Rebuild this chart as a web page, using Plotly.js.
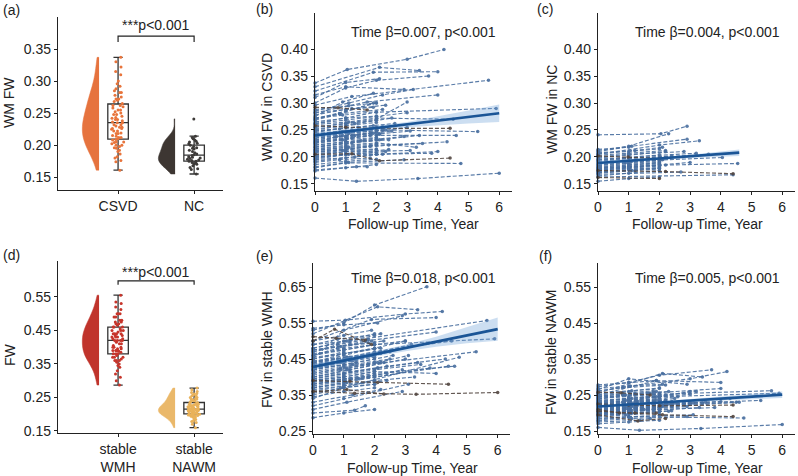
<!DOCTYPE html>
<html>
<head>
<meta charset="utf-8">
<script src="https://cdn.plot.ly/plotly-3.0.1.min.js"></script>
<style>
  html, body { margin: 0; padding: 0; background: #fff; }
  #chart { width: 798px; height: 476px; }
</style>
</head>
<body>
<div id="chart"></div>
<script>
// ---- follow-up times per CSVD subject (shared by b, e, f) ----
const csvdTimes = [
  [0, 1.05, 3.0, 4.2], [0, 2.1, 3.4], [0, 1.9, 4.0], [0, 1.0, 2.0, 3.7], [0, 1.2, 5.65],
  [0, 1.7, 4.0], [0, 1.0, 2.9], [0, 0.75, 1.7], [0, 1.0, 2.0, 5.9], [0, 1.35, 3.35, 6.0],
  [0, 1.35, 1.7], [0, 1.2, 2.1, 4.4], [0, 1.0, 2.0], [0, 0.9, 1.9], [0, 1.1, 2.2, 3.2],
  [0, 1.0, 2.1], [0, 1.0, 4.75], [0, 1.1, 2.3, 5.3], [0, 2.0, 4.6], [0, 1.0, 2.0, 3.8],
  [0, 0.8, 1.9], [0, 1.0, 2.0, 3.0], [0, 1.3, 2.5], [0, 1.0], [0, 0.9, 2.0],
  [0, 1.1, 2.2], [0, 1.0, 2.0, 4.4], [0, 1.2, 3.0], [0, 1.0, 2.1], [0, 0.7, 1.9],
  [0, 1.0, 2.0], [0, 1.5, 2.9], [0, 1.0, 2.0, 3.3], [0, 1.1], [0, 1.0, 2.0],
  [0, 1.2, 2.4, 4.3], [0, 0.9, 2.0], [0, 1.0, 3.1], [0, 1.0, 2.0], [0, 1.3, 2.2],
  [0, 1.0, 2.0, 4.0], [0, 0.8, 1.8], [0, 1.0, 2.0], [0, 1.1, 2.9], [0, 1.0, 2.0],
  [0, 1.2], [0, 1.0, 2.1, 3.1], [0, 0.9, 2.0], [0, 1.0, 2.2], [0, 1.4, 2.6],
  [0, 1.0, 2.0], [0, 1.1, 2.0, 4.5], [0, 1.0, 2.0], [0, 0.8, 2.2], [0, 1.0, 1.9],
  [0, 1.2, 2.4], [0, 1.0, 2.0, 3.5], [0, 1.0, 2.0], [0, 1.1, 2.3], [0, 1.0, 2.0],
  [0, 1.0, 2.0], [0, 1.1, 2.2], [0, 0.9, 1.8], [0, 1.0, 2.0, 3.0], [0, 1.2, 2.3],
  [0, 1.0, 2.0], [0, 0.8, 1.9], [0, 1.0, 2.1, 3.4], [0, 1.1, 2.0], [0, 1.0, 2.4],
  [0, 1.0, 2.0], [0, 1.3, 2.5], [0, 0.9, 2.0], [0, 1.0, 1.8], [0, 1.2, 2.2]
];

// (b) WM FW in CSVD
const wmFwCsvd = [
  [0.337, 0.362, 0.381, 0.399], [0.330, 0.366, 0.360], [0.322, 0.357, 0.358], [0.300, 0.328, 0.342, 0.350], [0.296, 0.312, 0.342],
  [0.282, 0.302, 0.315], [0.315, 0.330, 0.325], [0.292, 0.291, 0.287], [0.262, 0.272, 0.283, 0.290], [0.161, 0.155, 0.160, 0.170],
  [0.176, 0.182, 0.182], [0.205, 0.206, 0.193, 0.198], [0.270, 0.285, 0.300], [0.275, 0.302, 0.318], [0.285, 0.300, 0.315, 0.325],
  [0.310, 0.338, 0.345], [0.180, 0.189, 0.188], [0.240, 0.245, 0.250, 0.247], [0.228, 0.240, 0.240], [0.200, 0.204, 0.205, 0.207],
  [0.268, 0.280, 0.300], [0.255, 0.262, 0.270, 0.302], [0.250, 0.262, 0.272], [0.245, 0.255], [0.240, 0.247, 0.255],
  [0.235, 0.245, 0.250], [0.258, 0.255, 0.253, 0.253], [0.232, 0.240, 0.255], [0.230, 0.236, 0.242], [0.226, 0.238, 0.244],
  [0.222, 0.228, 0.235], [0.218, 0.230, 0.238], [0.215, 0.222, 0.226, 0.218], [0.212, 0.218], [0.210, 0.215, 0.222],
  [0.208, 0.215, 0.222, 0.228], [0.205, 0.212, 0.215], [0.202, 0.210, 0.212], [0.198, 0.205, 0.208], [0.195, 0.200, 0.205],
  [0.192, 0.198, 0.205, 0.210], [0.190, 0.195, 0.198], [0.186, 0.192, 0.196], [0.182, 0.190, 0.195], [0.225, 0.232, 0.236],
  [0.228, 0.235], [0.232, 0.238, 0.243, 0.248], [0.236, 0.240, 0.246], [0.242, 0.248, 0.252], [0.248, 0.255, 0.262],
  [0.252, 0.258, 0.264], [0.260, 0.265, 0.272, 0.270], [0.265, 0.272, 0.276], [0.272, 0.280, 0.288], [0.278, 0.288, 0.292],
  [0.218, 0.226, 0.232], [0.212, 0.218, 0.222, 0.225], [0.222, 0.228, 0.232], [0.196, 0.205, 0.210], [0.174, 0.180, 0.186],
  [0.204, 0.210, 0.214], [0.238, 0.244, 0.250], [0.226, 0.232, 0.240], [0.262, 0.268, 0.275, 0.282], [0.282, 0.290, 0.296],
  [0.214, 0.220, 0.224], [0.248, 0.252, 0.258], [0.219, 0.225, 0.232, 0.240], [0.288, 0.295, 0.300], [0.200, 0.206, 0.214],
  [0.255, 0.262, 0.268], [0.235, 0.240, 0.248], [0.272, 0.278, 0.284], [0.209, 0.214, 0.220], [0.243, 0.250, 0.256]
];

// (e) FW in stable WMH
const fwWmh = [
  [0.555, 0.558, 0.575, 0.582], [0.520, 0.595, 0.587], [0.500, 0.560, 0.565], [0.530, 0.550, 0.600, 0.651], [0.480, 0.500, 0.557],
  [0.470, 0.500, 0.525], [0.450, 0.530, 0.570], [0.512, 0.508, 0.503], [0.460, 0.480, 0.490, 0.506], [0.360, 0.355, 0.352, 0.357],
  [0.300, 0.308, 0.320], [0.390, 0.388, 0.385, 0.380], [0.440, 0.465, 0.480], [0.420, 0.445, 0.460], [0.430, 0.450, 0.470, 0.490],
  [0.535, 0.545, 0.550], [0.340, 0.370, 0.455], [0.400, 0.420, 0.440, 0.470], [0.380, 0.410, 0.430], [0.370, 0.385, 0.400, 0.425],
  [0.460, 0.480, 0.500], [0.440, 0.460, 0.480, 0.500], [0.430, 0.445, 0.470], [0.450, 0.470], [0.420, 0.440, 0.460],
  [0.410, 0.425, 0.440], [0.380, 0.390, 0.400, 0.430], [0.400, 0.420, 0.450], [0.395, 0.410, 0.425], [0.500, 0.533, 0.490],
  [0.390, 0.400, 0.415], [0.375, 0.395, 0.420], [0.360, 0.375, 0.390, 0.400], [0.370, 0.385], [0.355, 0.370, 0.380],
  [0.400, 0.415, 0.430, 0.450], [0.350, 0.370, 0.380], [0.320, 0.340, 0.380], [0.345, 0.360, 0.370], [0.330, 0.350, 0.365],
  [0.390, 0.400, 0.415, 0.410], [0.470, 0.490, 0.505], [0.480, 0.500, 0.520], [0.310, 0.330, 0.360], [0.425, 0.440, 0.455],
  [0.435, 0.450], [0.415, 0.430, 0.440, 0.460], [0.410, 0.425, 0.440], [0.450, 0.465, 0.480], [0.420, 0.440, 0.460],
  [0.430, 0.445, 0.460], [0.440, 0.455, 0.470, 0.500], [0.460, 0.475, 0.490], [0.490, 0.505, 0.520], [0.500, 0.515, 0.530],
  [0.388, 0.395, 0.410], [0.390, 0.405, 0.420, 0.435], [0.420, 0.435, 0.450], [0.360, 0.365, 0.353], [0.287, 0.300, 0.310],
  [0.385, 0.395, 0.405], [0.445, 0.455, 0.470], [0.405, 0.420, 0.435], [0.465, 0.475, 0.490, 0.500], [0.475, 0.490, 0.500],
  [0.370, 0.380, 0.390], [0.435, 0.450, 0.460], [0.395, 0.410, 0.425, 0.440], [0.490, 0.500, 0.515], [0.365, 0.375, 0.390],
  [0.455, 0.465, 0.480], [0.425, 0.435, 0.450], [0.475, 0.485, 0.495], [0.380, 0.390, 0.400], [0.440, 0.455, 0.465]
];

// (f) FW in stable NAWM
const fwNawm = [
  [0.260, 0.275, 0.295, 0.315], [0.255, 0.310, 0.300], [0.250, 0.290, 0.285], [0.273, 0.285, 0.305, 0.320], [0.245, 0.250, 0.262],
  [0.240, 0.255, 0.268], [0.265, 0.295, 0.280], [0.258, 0.256, 0.250], [0.235, 0.240, 0.245, 0.255], [0.160, 0.152, 0.157, 0.168],
  [0.175, 0.180, 0.185], [0.205, 0.200, 0.195, 0.190], [0.230, 0.240, 0.250], [0.225, 0.235, 0.245], [0.232, 0.240, 0.250, 0.260],
  [0.268, 0.275, 0.280], [0.180, 0.190, 0.186], [0.215, 0.220, 0.225, 0.235], [0.210, 0.220, 0.230], [0.200, 0.205, 0.210, 0.215],
  [0.238, 0.250, 0.260], [0.228, 0.235, 0.245, 0.260], [0.225, 0.232, 0.240], [0.220, 0.228], [0.215, 0.222, 0.230],
  [0.212, 0.218, 0.225], [0.225, 0.222, 0.220, 0.222], [0.208, 0.215, 0.225], [0.205, 0.212, 0.218], [0.210, 0.200, 0.200],
  [0.203, 0.210, 0.215], [0.200, 0.210, 0.218], [0.198, 0.203, 0.210, 0.215], [0.196, 0.200], [0.194, 0.198, 0.205],
  [0.220, 0.225, 0.232, 0.240], [0.190, 0.195, 0.200], [0.186, 0.190, 0.195], [0.184, 0.188, 0.193], [0.195, 0.178, 0.185],
  [0.215, 0.220, 0.228, 0.232], [0.245, 0.255, 0.262], [0.250, 0.260, 0.270], [0.178, 0.185, 0.190], [0.218, 0.225, 0.230],
  [0.213, 0.220], [0.210, 0.215, 0.222, 0.228], [0.206, 0.212, 0.218], [0.222, 0.228, 0.235], [0.230, 0.236, 0.245],
  [0.200, 0.206, 0.212], [0.202, 0.208, 0.215, 0.230], [0.240, 0.245, 0.252], [0.262, 0.270, 0.278], [0.278, 0.285, 0.290],
  [0.208, 0.212, 0.218], [0.214, 0.220, 0.225, 0.230], [0.217, 0.223, 0.228], [0.192, 0.200, 0.205], [0.170, 0.175, 0.180],
  [0.198, 0.204, 0.210], [0.222, 0.228, 0.235], [0.212, 0.218, 0.224], [0.235, 0.240, 0.246, 0.252], [0.248, 0.255, 0.260],
  [0.204, 0.210, 0.214], [0.226, 0.230, 0.236], [0.209, 0.215, 0.222, 0.228], [0.255, 0.262, 0.268], [0.196, 0.200, 0.206],
  [0.228, 0.234, 0.240], [0.218, 0.222, 0.228], [0.243, 0.250, 0.255], [0.201, 0.206, 0.210], [0.224, 0.230, 0.236]
];

// (c) NC subjects: times and WM FW
const ncTimes = [
  [0, 2.05, 2.9], [0, 1.0, 2.3], [0, 2.0, 3.3], [0, 1.1, 2.9], [0, 1.0, 2.8],
  [0, 2.0, 4.05], [0, 2.2, 4.55], [0, 2.2, 4.4], [0, 4.4], [0, 0.98, 2.0],
  [0, 2.0], [0, 2.7], [0, 1.0, 2.0], [0, 1.0, 2.1], [0, 1.0, 2.0],
  [0, 1.0, 2.0], [0, 1.0, 2.2], [0, 1.0, 2.0], [0, 1.2, 2.0], [0, 1.0, 2.0],
  [0, 1.0, 3.0], [0, 1.1, 2.1], [0, 1.0, 2.0], [0, 1.0], [0, 1.0, 2.0],
  [0, 2.0, 3.6], [0, 1.0, 2.0], [0, 1.0, 2.0], [0, 1.0, 2.4], [0, 1.0, 2.0],
  [0, 1.0, 2.0], [0, 1.1, 2.0], [0, 1.0, 2.2], [0, 0.9, 2.0], [0, 1.0, 2.0],
  [0, 1.2, 2.1], [0, 1.0, 2.0], [0, 1.0, 3.2]
];
const wmFwNc = [
  [0.241, 0.243, 0.257], [0.212, 0.220, 0.243], [0.205, 0.222, 0.230], [0.210, 0.220, 0.233], [0.200, 0.205, 0.210],
  [0.190, 0.195, 0.199], [0.180, 0.185, 0.188], [0.175, 0.173, 0.169], [0.163, 0.167], [0.202, 0.200, 0.197],
  [0.162, 0.160], [0.168, 0.172], [0.172, 0.176, 0.180], [0.185, 0.190, 0.195], [0.178, 0.182, 0.186],
  [0.194, 0.198, 0.204], [0.198, 0.203, 0.210], [0.206, 0.210, 0.215], [0.170, 0.174, 0.178], [0.182, 0.186, 0.190],
  [0.175, 0.180, 0.190], [0.188, 0.192, 0.196], [0.165, 0.170, 0.175], [0.214, 0.218], [0.179, 0.183, 0.188],
  [0.196, 0.200, 0.205], [0.155, 0.160, 0.163], [0.173, 0.178, 0.180], [0.192, 0.197, 0.202], [0.176, 0.179, 0.183],
  [0.184, 0.188, 0.192], [0.171, 0.175, 0.179], [0.203, 0.207, 0.212], [0.186, 0.190, 0.194], [0.177, 0.181, 0.185],
  [0.208, 0.212, 0.218], [0.181, 0.185, 0.189], [0.195, 0.200, 0.207]
];

// mixed-model fit lines and 95% bands
const fitTimes = [0, 1, 2, 3, 4, 5, 6];
const fitCsvd = [0.240, 0.247, 0.254, 0.260, 0.267, 0.274, 0.281];
const loCsvd = [0.235, 0.243, 0.250, 0.255, 0.259, 0.262, 0.265];
const hiCsvd = [0.245, 0.251, 0.258, 0.265, 0.275, 0.286, 0.297];
const fitTimesNc = [0, 1, 2, 3, 4, 4.6];
const fitNc = [0.189, 0.193, 0.197, 0.201, 0.2055, 0.208];
const loNc = [0.185, 0.190, 0.195, 0.198, 0.201, 0.202];
const hiNc = [0.193, 0.196, 0.199, 0.204, 0.210, 0.214];
const fitWmh = [0.428, 0.4455, 0.463, 0.4805, 0.498, 0.5155, 0.533];
const loWmh = [0.420, 0.4385, 0.456, 0.4715, 0.484, 0.4935, 0.501];
const hiWmh = [0.436, 0.4525, 0.470, 0.4895, 0.512, 0.5375, 0.565];
const fitNawm = [0.218, 0.2235, 0.229, 0.2345, 0.240, 0.2455, 0.251];
const loNawm = [0.214, 0.2205, 0.226, 0.2305, 0.235, 0.2385, 0.242];
const hiNawm = [0.222, 0.2265, 0.232, 0.2385, 0.245, 0.2525, 0.260];

const betaTexts = ["Time β=0.007, p<0.001", "Time β=0.004, p<0.001", "Time β=0.018, p<0.001", "Time β=0.005, p<0.001"];
const groupLabels1 = ["CSVD", "NC"];
const groupLabels2 = ["stable<br>WMH", "stable<br>NAWM"];

const FONT = "Liberation Sans, Arial, sans-serif";
const FS = 14;
const TXT = "#222";
const BLUE = "rgba(72,110,158,0.9)";
const GREY = "rgba(82,70,64,0.9)";
const FIT = "#1b5596";
const BAND = "rgba(110,160,215,0.35)";

const axName = (k, p) => (k === 1 ? p : p + k);

const spaghetti = (times, vals, k) => {
  const up = { x: [], y: [] }, down = { x: [], y: [] };
  times.forEach((t, i) => {
    const v = vals[i];
    const g = v[v.length - 1] < v[0] ? down : up;
    g.x.push(...t, null);
    g.y.push(...v, null);
  });
  return [[up, BLUE], [down, GREY]].map(([g, c]) => ({
    type: "scatter", mode: "lines+markers", x: g.x, y: g.y,
    xaxis: axName(k, "x"), yaxis: axName(k, "y"),
    line: { color: c, width: 1.15, dash: "4px,2px" },
    marker: { size: 3.5, color: c },
    cliponaxis: false, hoverinfo: "skip"
  }));
};

const fitTraces = (tx, fit, lo, hi, k) => [
  {
    type: "scatter", mode: "lines", x: tx.concat(tx.slice().reverse()),
    y: lo.concat(hi.slice().reverse()), fill: "toself", fillcolor: BAND,
    line: { width: 0 }, xaxis: axName(k, "x"), yaxis: axName(k, "y"), hoverinfo: "skip"
  },
  {
    type: "scatter", mode: "lines", x: tx, y: fit, line: { color: FIT, width: 2.6 },
    xaxis: axName(k, "x"), yaxis: axName(k, "y"), hoverinfo: "skip"
  }
];

const raincloud = (vals, pos, fill, dot, k) => {
  const base = vals.map(v => v[0]);
  return [
    {
      type: "violin", y: base, x0: pos - 0.25, side: "negative", width: 0.44,
      points: false, spanmode: "hard", fillcolor: fill, line: { color: fill, width: 0.5 },
      box: { visible: false }, meanline: { visible: false },
      xaxis: axName(k, "x"), yaxis: axName(k, "y"), hoverinfo: "skip"
    },
    {
      type: "box", y: base, x0: pos, width: 0.27, boxpoints: "all", jitter: 0.7, pointpos: 0,
      whiskerwidth: 0.45, fillcolor: "rgba(0,0,0,0)", line: { color: "#333", width: 1.3 },
      marker: { color: dot, size: 3 },
      xaxis: axName(k, "x"), yaxis: axName(k, "y"), hoverinfo: "skip"
    }
  ];
};

const data = [
  ...raincloud(wmFwCsvd, 0, "#e6733e", "#e8743b", 1),
  ...raincloud(wmFwNc, 1, "#3d3632", "#3d3a38", 1),
  ...spaghetti(csvdTimes, wmFwCsvd, 2), ...fitTraces(fitTimes, fitCsvd, loCsvd, hiCsvd, 2),
  ...spaghetti(ncTimes, wmFwNc, 3), ...fitTraces(fitTimesNc, fitNc, loNc, hiNc, 3),
  ...raincloud(fwWmh, 0, "#c0342c", "#c7352b", 4),
  ...raincloud(fwNawm, 1, "#eab86a", "#e9b25a", 4),
  ...spaghetti(csvdTimes, fwWmh, 5), ...fitTraces(fitTimes, fitWmh, loWmh, hiWmh, 5),
  ...spaghetti(csvdTimes, fwNawm, 6), ...fitTraces(fitTimes, fitNawm, loNawm, hiNawm, 6)
];

const W = 798, H = 476;
const px = (a, b) => [a / W, b / W];
const py = (top, bottom) => [1 - bottom / H, 1 - top / H];

const baseAxis = {
  showline: true, linecolor: "#222", linewidth: 1.2, ticks: "outside", ticklen: 3,
  tickcolor: "#222", showgrid: false, zeroline: false,
  tickfont: { family: FONT, size: FS, color: TXT }
};
const seq = (a, b, s) => { const r = []; for (let v = a; v <= b + 1e-9; v += s) r.push(+v.toFixed(2)); return r; };
const yTicks = (vals) => ({ tickvals: vals, ticktext: vals.map(v => v.toFixed(2)) });
const xAx = (k, dom, extra) => ({ ...baseAxis, anchor: axName(k, "y"), domain: dom, ...extra });
const yAx = (k, dom, range, ticks) => ({ ...baseAxis, anchor: axName(k, "x"), domain: dom, range, ...yTicks(ticks) });
const timeX = { range: [0, 6.4], tickvals: [0, 1, 2, 3, 4, 5, 6] };

const layout = {
  width: W, height: H, margin: { l: 0, r: 0, t: 0, b: 0 },
  paper_bgcolor: "#fff", plot_bgcolor: "#fff", showlegend: false,
  font: { family: FONT, size: FS, color: TXT },
  xaxis: xAx(1, px(58, 223), { range: [-0.79, 1.38], tickvals: [0, 1], ticktext: groupLabels1 }),
  yaxis: yAx(1, py(17, 190), [0.13, 0.40], seq(0.15, 0.35, 0.05)),
  xaxis2: xAx(2, px(315, 511.5), timeX),
  yaxis2: yAx(2, py(13, 191), [0.137, 0.4667], seq(0.15, 0.40, 0.05)),
  xaxis3: xAx(3, px(598, 794.5), timeX),
  yaxis3: yAx(3, py(13, 191), [0.137, 0.4667], seq(0.15, 0.40, 0.05)),
  xaxis4: xAx(4, px(58, 223), { range: [-0.79, 1.38], tickvals: [0, 1], ticktext: groupLabels2 }),
  yaxis4: yAx(4, py(261, 433), [0.144, 0.657], seq(0.15, 0.55, 0.1)),
  xaxis5: xAx(5, px(313, 510), timeX),
  yaxis5: yAx(5, py(263, 434), [0.2417, 0.7167], seq(0.25, 0.65, 0.1)),
  xaxis6: xAx(6, px(598, 794.5), timeX),
  yaxis6: yAx(6, py(263, 434), [0.1417, 0.6167], seq(0.15, 0.55, 0.1)),
  shapes: [
    { type: "path", xref: "x", yref: "y", path: "M0,0.361 L0,0.370 L1,0.370 L1,0.361", line: { color: "#222", width: 1.2 } },
    { type: "path", xref: "x4", yref: "y4", path: "M0,0.586 L0,0.598 L1,0.598 L1,0.586", line: { color: "#222", width: 1.2 } }
  ],
  annotations: []
};

const ann = (text, x, y, extra) => layout.annotations.push({
  text, x: x / W, y: 1 - y / H, xref: "paper", yref: "paper", showarrow: false,
  xanchor: "center", yanchor: "middle",
  font: { family: FONT, size: FS, color: TXT }, ...extra
});

// panel letters
[["(a)", 11, 10], ["(b)", 264, 9], ["(c)", 545, 9], ["(d)", 11, 255], ["(e)", 264, 256], ["(f)", 545, 256]]
  .forEach(([t, x, y]) => ann(t, x, y));
// significance
ann("***p<0.001", 156, 25);
ann("***p<0.001", 156, 272);
// beta texts, right-aligned
ann(betaTexts[0], 498, 32, { xanchor: "right" });
ann(betaTexts[1], 782, 32, { xanchor: "right" });
ann(betaTexts[2], 498, 278, { xanchor: "right" });
ann(betaTexts[3], 782, 278, { xanchor: "right" });
// y titles
[["WM FW", 9, 103], ["WM FW in CSVD", 267, 107], ["WM FW in NC", 552, 110],
 ["FW", 10, 355], ["FW in stable WMH", 267, 350], ["FW in stable NAWM", 551, 352]]
  .forEach(([t, x, y]) => ann(t, x, y, { textangle: -90 }));
// x titles
ann("Follow-up Time, Year", 413, 224);
ann("Follow-up Time, Year", 697, 224);
ann("Follow-up Time, Year", 412, 468);
ann("Follow-up Time, Year", 697, 468);

Plotly.newPlot("chart", data, layout, { displayModeBar: false, staticPlot: true });
</script>
</body>
</html>
